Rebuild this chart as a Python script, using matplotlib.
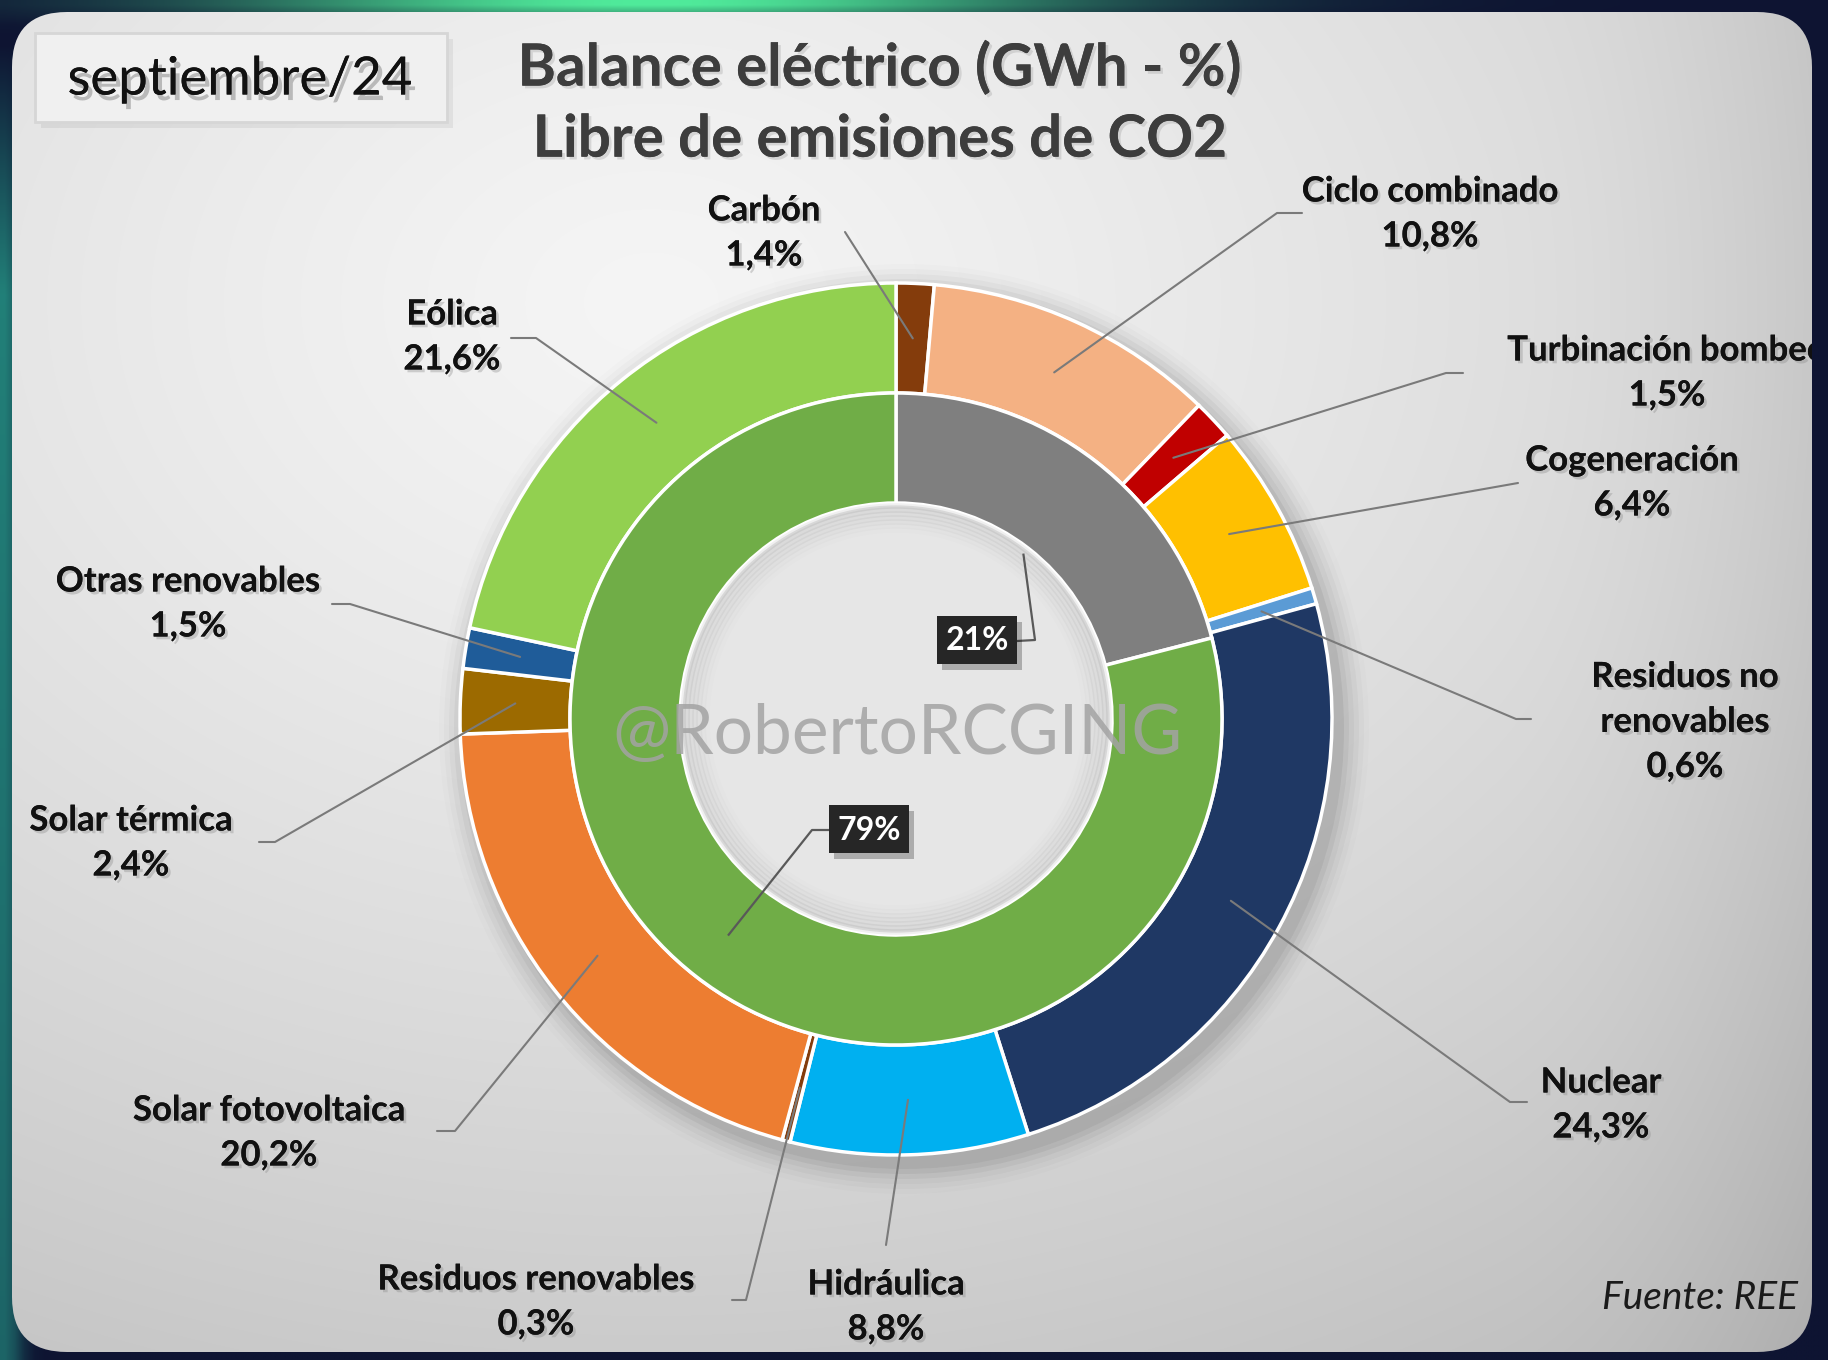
import numpy as np
import matplotlib
matplotlib.use("Agg")
import matplotlib.pyplot as plt
from matplotlib.patches import FancyBboxPatch, Rectangle
import matplotlib.patheffects as pe

# ---------------- data ----------------
outer_labels = ["Carbón", "Ciclo combinado", "Turbinación bombeo", "Cogeneración",
                "Residuos no\nrenovables", "Nuclear", "Hidráulica", "Residuos renovables",
                "Solar fotovoltaica", "Solar térmica", "Otras renovables", "Eólica"]
outer_values = [1.4, 10.8, 1.5, 6.4, 0.6, 24.3, 8.8, 0.3, 20.2, 2.4, 1.5, 21.6]
outer_colors = ["#843C0C", "#F4B183", "#C00000", "#FFC000", "#5B9BD5", "#1F3864",
                "#00B0F0", "#843C0C", "#ED7D31", "#9C6A00", "#1F5C99", "#92D050"]
inner_labels = ["21%", "79%"]
inner_values = [21, 79]
inner_colors = ["#7F7F7F", "#70AD47"]

title = "Balance eléctrico (GWh - %)\nLibre de emisiones de CO2"
period = "septiembre/24"
source = "Fuente: REE"
watermark = "@RobertoRCGING"

# ---------------- layout ----------------
W, H = 1828, 1360
def Y(y):
    return H - y

cx, cy = 896, Y(719)
R_out, R_mid, R_hole = 436, 326, 216

# label text centre, elbow point (label side), leader bend point  (pixel coords, top-origin)
label_layout = [
    ((764, 233), (845, 232), None),
    ((1430, 214), (1302, 213), (1277, 213)),
    ((1667, 373), (1463, 373), (1446, 373)),
    ((1632, 483), (1518, 483), None),
    ((1685, 722), (1531, 719), (1516, 719)),
    ((1601, 1105), (1527, 1102), (1510, 1102)),
    ((886, 1307), (886, 1245), None),
    ((536, 1302), (732, 1300), (746, 1300)),
    ((269, 1133), (437, 1131), (455, 1131)),
    ((131, 843), (259, 842), (275, 842)),
    ((188, 604), (332, 604), (350, 604)),
    ((452, 337), (511, 338), (536, 338)),
]

fig = plt.figure(figsize=(W / 100, H / 100), dpi=100)
ax = fig.add_axes([0, 0, 1, 1])

# ---------------- background ----------------
hh, ww = 136, 183
yy, xx = np.mgrid[0:hh, 0:ww]
xs = xx / (ww - 1) * W
ys = yy / (hh - 1) * H
navy = np.array([14, 20, 50]) / 255.0
bg = np.ones((hh, ww, 3)) * navy
green = np.array([80, 235, 155]) / 255.0
teal = np.array([35, 135, 125]) / 255.0
gtop = np.exp(-((xs - 650) / 420) ** 2) * np.exp(-(ys / 15) ** 2)
gleft = np.clip((ys - 40) / 250, 0, 1) * np.exp(-(xs / 18) ** 2) * (1 - 0.3 * ys / H)
for k in range(3):
    bg[..., k] = bg[..., k] * (1 - gtop - gleft).clip(0, 1) + green[k] * gtop + teal[k] * gleft
bg = bg.clip(0, 1)
ax.imshow(bg, extent=(0, W, 0, H), origin="upper", interpolation="bilinear", zorder=0, aspect="auto")

# card with gradient
card = FancyBboxPatch((12, Y(1352)), 1800, 1340, boxstyle="round,pad=0,rounding_size=55",
                      facecolor="none", edgecolor="none", zorder=1)
ax.add_patch(card)
d = np.sqrt(((xs - 650) / W) ** 2 + ((ys - 300) / H) ** 2)
g = 0.96 - 0.23 * (d / d.max()) ** 1.3
g = g - 0.05 * np.clip((xs - 1500) / 320, 0, 1) ** 2
cardimg = np.dstack([g, g, g]).clip(0, 1)
im = ax.imshow(cardimg, extent=(0, W, 0, H), origin="upper", interpolation="bilinear",
               zorder=1, aspect="auto")
im.set_clip_path(card)

# donut shadow
for i, a in enumerate(np.linspace(0.05, 0.01, 6)):
    sh = plt.Circle((cx + 8, cy - 10), R_out + 4 + i * 5, color="black", alpha=a, zorder=2, lw=0)
    ax.add_patch(sh)

# ---------------- donut ----------------
wedges_out, _ = ax.pie(outer_values, radius=R_out, center=(cx, cy), startangle=90,
                       counterclock=False, colors=outer_colors,
                       wedgeprops=dict(width=R_out - R_mid, edgecolor="white", linewidth=2.5))
wedges_in, _ = ax.pie(inner_values, radius=R_mid, center=(cx, cy), startangle=90,
                      counterclock=False, colors=inner_colors,
                      wedgeprops=dict(width=R_mid - R_hole, edgecolor="white", linewidth=2.5))
for w in wedges_out + wedges_in:
    w.set_zorder(3)
hole = plt.Circle((cx, cy), R_hole - 1, facecolor="#E6E6E6", edgecolor="white", lw=2, zorder=3)
ax.add_patch(hole)
for i, a in enumerate(np.linspace(0.06, 0.0, 8)):
    ax.add_patch(plt.Circle((cx, cy), R_hole - 3 - i * 4, facecolor="none",
                            edgecolor="black", alpha=a, lw=4, zorder=3))

ax.set_xlim(0, W)
ax.set_ylim(0, H)
ax.set_aspect("auto")
ax.axis("off")

shadow = [pe.withSimplePatchShadow(offset=(2, -2), shadow_rgbFace="#888888", alpha=0.35), pe.Normal()]
lab_font = dict(family=["Lato", "DejaVu Sans"], fontweight="bold", fontsize=25, color="#111111")

# leader lines + labels
r_lead = (R_out + R_mid) / 2
for lab, val, w, (tpos, elbow, bend) in zip(outer_labels, outer_values, wedges_out, label_layout):
    mid = np.deg2rad((w.theta1 + w.theta2) / 2)
    sx, sy = cx + r_lead * np.cos(mid), cy + r_lead * np.sin(mid)
    pts = [elbow] + ([bend] if bend else [])
    xsl = [p[0] for p in pts] + [sx]
    ysl = [Y(p[1]) for p in pts] + [sy]
    ax.plot(xsl, ysl, color="#7A7A7A", lw=1.5, zorder=4, solid_capstyle="round")
    txt = f"{lab}\n{val:.1f}%".replace(".", ",")
    t = ax.text(tpos[0], Y(tpos[1]), txt, ha="center", va="center", linespacing=1.5,
                zorder=5, path_effects=shadow, clip_on=True, **lab_font)
    t.set_clip_path(card)

# inner labels
inner_layout = [((977, 641), (1035, 640), R_hole - 8, "right"),
                ((869, 830), (812, 830), (R_mid + R_hole) / 2 + 2, "left")]
for lab, w, (bpos, bend, rr, side) in zip(inner_labels, wedges_in, inner_layout):
    mid = np.deg2rad((w.theta1 + w.theta2) / 2)
    sx, sy = cx + rr * np.cos(mid), cy + rr * np.sin(mid)
    ex = bpos[0] + (40 if side == "right" else -40)
    ax.plot([ex, bend[0], sx], [Y(bpos[1]), Y(bend[1]), sy], color="#595959", lw=1.6, zorder=6)
    ax.add_patch(Rectangle((bpos[0] - 40 + 5, Y(bpos[1]) - 23 - 6), 80, 48, facecolor="black",
                           alpha=0.25, zorder=6, lw=0))
    ax.add_patch(Rectangle((bpos[0] - 40, Y(bpos[1]) - 23), 80, 48, facecolor="#262626",
                           edgecolor="none", zorder=7))
    ax.text(bpos[0], Y(bpos[1]), lab, ha="center", va="center", color="white", fontsize=23,
            fontweight="bold", family=["Lato", "DejaVu Sans"], zorder=8)

# watermark
ax.text(898, Y(734), watermark, ha="center", va="center", fontsize=50, color="#A3A3A3",
        alpha=0.85, family=["Lato", "DejaVu Sans"], fontweight="normal", zorder=5)

# title
ax.text(880, Y(104), title, ha="center", va="center", fontsize=42, fontweight="bold",
        color="#3D3D3D", linespacing=1.42, family=["Lato", "DejaVu Sans"], zorder=5,
        path_effects=[pe.withSimplePatchShadow(offset=(2, -2), shadow_rgbFace="#999999", alpha=0.3),
                      pe.Normal()])

# period box
ax.add_patch(Rectangle((41, Y(128)), 412, 89, facecolor="black", alpha=0.06, zorder=4, lw=0))
ax.add_patch(Rectangle((35, Y(122)), 412, 89, facecolor="#F0F0F0", edgecolor="#D6D6D6",
                       lw=2, zorder=4))
ax.text(240, Y(80), period, ha="center", va="center", fontsize=38, color="#111111",
        family=["Lato", "DejaVu Sans"], zorder=5,
        path_effects=[pe.withSimplePatchShadow(offset=(3, -4), shadow_rgbFace="#777777", alpha=0.45),
                      pe.Normal()])

# source
ax.text(1798, Y(1298), source, ha="right", va="center", fontsize=28, style="italic",
        color="#1A1A1A", family=["Lato", "DejaVu Sans"], fontweight="normal", zorder=5)

fig.savefig("out.png", dpi=100)
